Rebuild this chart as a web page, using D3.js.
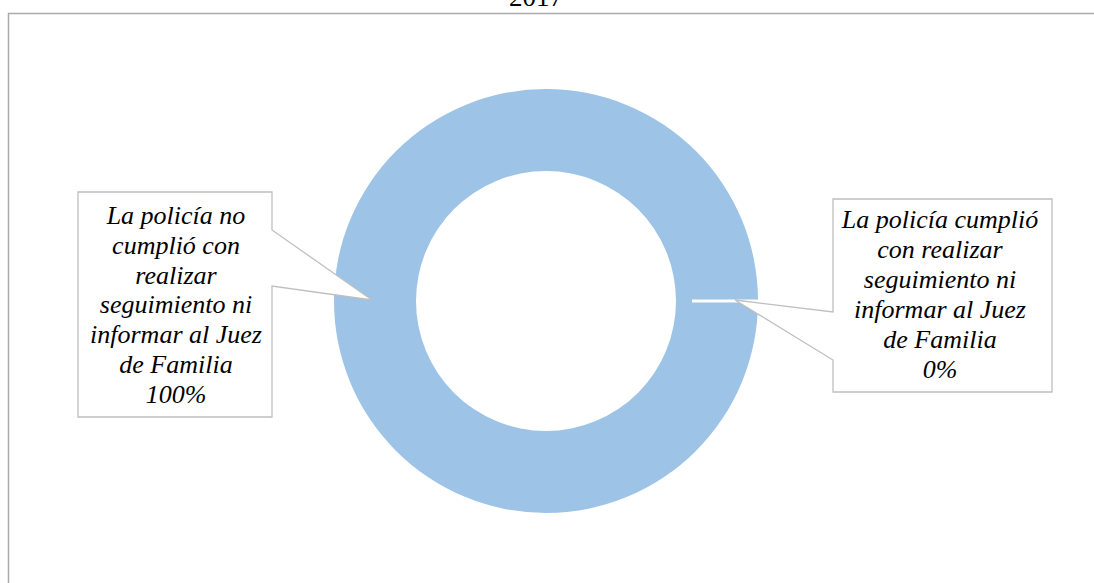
<!DOCTYPE html>
<html>
<head>
<meta charset="utf-8">
<script src="https://cdn.jsdelivr.net/npm/d3@7"></script>
</head>
<body style="margin:0;background:#fff">
<svg id="chart" width="1094" height="583" style="display:block"></svg>
<script>
const title = "2017";
const categories = [
  "La policía no cumplió con realizar seguimiento ni informar al Juez de Familia",
  "La policía cumplió con realizar seguimiento ni informar al Juez de Familia"
];
const values = [100, 0];
const labelLines = [
  ["La policía no", "cumplió con", "realizar", "seguimiento ni", "informar al Juez", "de Familia", "100%"],
  ["La policía cumplió", "con realizar", "seguimiento ni", "informar al Juez", "de Familia", "0%"]
];
const colors = ["#9DC3E6", "#9DC3E6"];

const FONT = "'Liberation Serif', 'Times New Roman', Tinos, serif";
const svg = d3.select("#chart");
const W = 1094, H = 583;
const cx = 546, cy = 301, rOuter = 212, rInner = 130;

// frame
svg.append("path")
  .attr("d", `M8.5,${H} L8.5,13.5 L${W},13.5`)
  .attr("fill", "none").attr("stroke", "#ababab").attr("stroke-width", 1.5);

// title
svg.append("text").attr("x", 536).attr("y", 6)
  .style("text-anchor", "middle")
  .style("font-family", FONT).style("font-size", "27px")
  .style("fill", "#000").text(title);

const pie = d3.pie().sort(null).startAngle(0).endAngle(2 * Math.PI)
  .value(d => d)(values);
const offset = Math.PI / 2;
const arc = d3.arc().innerRadius(rInner).outerRadius(rOuter);

const g = svg.append("g").attr("transform", `translate(${cx},${cy})`);
pie.forEach((p, i) => {
  const d = { startAngle: p.startAngle + offset, endAngle: p.endAngle + offset, padAngle: 0 };
  g.append("path").attr("d", arc(d)).attr("fill", colors[i]);
});
// white separator line for the zero slice
const zeroA = pie[1].startAngle + offset;
const sepIn = rInner + 16;
g.append("line")
  .attr("x1", Math.sin(zeroA) * sepIn).attr("y1", -Math.cos(zeroA) * sepIn)
  .attr("x2", Math.sin(zeroA) * (rOuter + 1)).attr("y2", -Math.cos(zeroA) * (rOuter + 1))
  .attr("stroke", "#fff").attr("stroke-width", 3);

// callouts
const boxes = [
  { x0: 78, y0: 192, x1: 272, y1: 417, pt: [372, 300], side: "right", a: 230, b: 286, tx: 176, ty: 224, dy: 29.8 },
  { x0: 833, y0: 199, x1: 1052, y1: 392, pt: [735, 300], side: "left", a: 312, b: 360, tx: 940, ty: 228, dy: 30 }
];
boxes.forEach((b, i) => {
  let d;
  if (b.side === "right") {
    d = `M${b.x0},${b.y0} L${b.x1},${b.y0} L${b.x1},${b.a} L${b.pt[0]},${b.pt[1]} L${b.x1},${b.b} L${b.x1},${b.y1} L${b.x0},${b.y1} Z`;
  } else {
    d = `M${b.x0},${b.y0} L${b.x1},${b.y0} L${b.x1},${b.y1} L${b.x0},${b.y1} L${b.x0},${b.b} L${b.pt[0]},${b.pt[1]} L${b.x0},${b.a} Z`;
  }
  svg.append("path").attr("d", d)
    .attr("fill", "#fff").attr("stroke", "#bfbfbf").attr("stroke-width", 1.3);
  labelLines[i].forEach((ln, j) => {
    svg.append("text").attr("x", b.tx).attr("y", b.ty + j * b.dy)
      .style("text-anchor", "middle")
      .style("font-family", FONT).style("font-style", "italic").style("font-size", "26px")
      .style("fill", "#000").text(ln);
  });
});
</script>
</body>
</html>
